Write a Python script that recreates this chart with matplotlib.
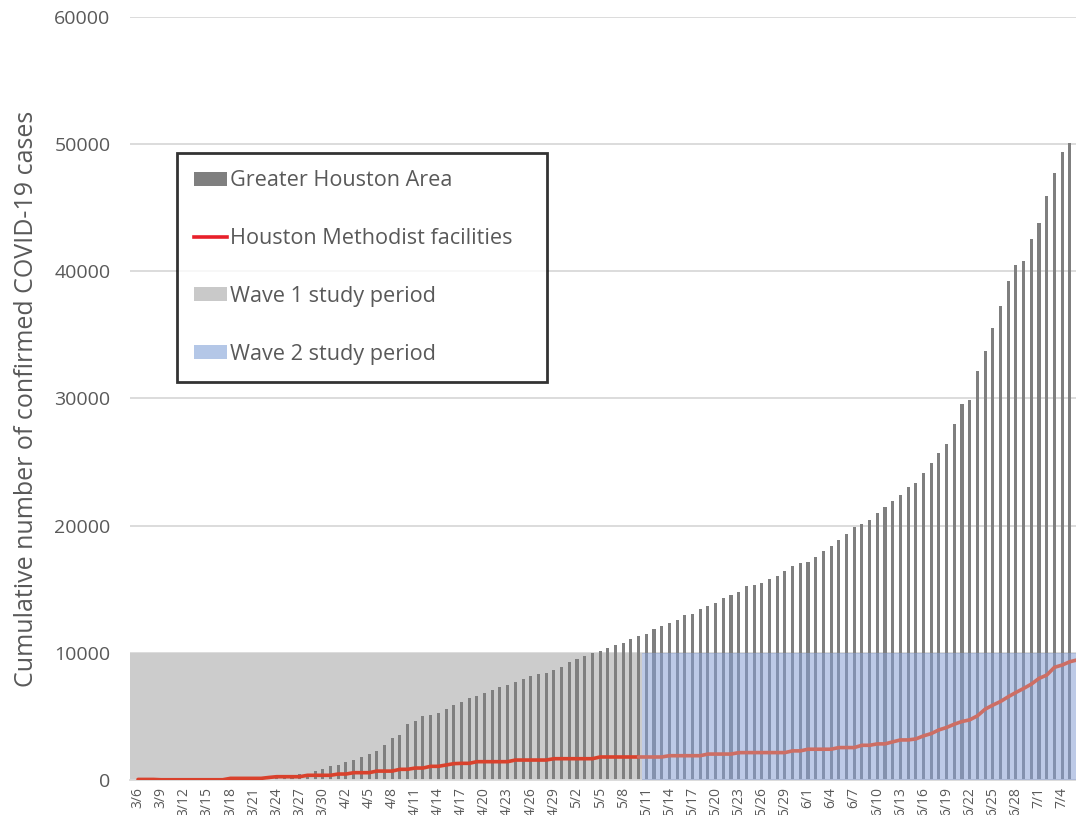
import matplotlib
matplotlib.use("Agg")
import matplotlib.pyplot as plt
from matplotlib.patches import Patch
from matplotlib.lines import Line2D
import numpy as np
import pandas as pd

# data (3/6 .. 7/6)
dates = pd.date_range("2020-03-06", "2020-07-06")
date_labels = [f"{d.month}/{d.day}" for d in dates]

greater_houston = [
    2, 4, 6, 11, 14, 17, 22, 30, 35, 42, 55, 75, 95, 120, 150, 185, 220, 260, 300, 340, 390,
    450, 500, 700, 840, 1075, 1180, 1415, 1550, 1835, 2020, 2300, 2780, 3280, 3510, 4400,
    4665, 5000, 5130, 5270,
    5610, 5870, 6130, 6470, 6600, 6840, 7075, 7340, 7470, 7680, 7965, 8175, 8310, 8440,
    8675, 8910, 9280, 9540, 9750, 9985, 10140, 10350, 10615, 10770, 11110, 11320,
    11455, 11845, 12080, 12370, 12600, 13000, 13075, 13470, 13680, 13940, 14310, 14570, 14780,
    15240, 15320, 15480, 15820, 16060, 16425, 16820, 17055, 17160, 17530, 18000, 18420,
    18895, 19370, 19870, 20130, 20470, 21000, 21500, 21970, 22440, 23070, 23340, 24150,
    24910, 25750, 26385, 27960, 29540, 29850,
    32140, 33720, 35510, 37300, 39270, 40510, 40850, 42580, 43820, 45920, 47740, 49370,
    50080, 51000,
]

methodist = [
    45, 45, 45, 20, 20, 20, 20, 20, 20, 20, 20, 20,
    130, 130, 130, 130, 130, 200, 260, 260, 260, 260, 370, 370, 370, 370,
    470, 470, 575, 575, 575, 700, 700, 700, 840, 840, 940, 940, 1075, 1075,
    1180, 1285, 1310, 1310, 1440, 1440, 1440, 1440, 1440, 1570, 1570, 1570, 1570, 1570,
    1675, 1675, 1675, 1675, 1675, 1675, 1810, 1810, 1810, 1810, 1810, 1810,
    1810, 1810, 1810, 1910, 1910, 1910, 1910, 1910, 2040, 2040, 2040, 2040, 2150,
    2155, 2155, 2155, 2155, 2155, 2155, 2290, 2290, 2420, 2420, 2420, 2420, 2550, 2550,
    2550, 2730, 2730, 2840, 2840, 3000, 3150, 3150, 3230, 3470, 3650, 3940, 4130, 4390,
    4600, 4730,
    5045, 5570, 5890, 6175, 6545, 6885, 7200, 7540, 7990, 8250, 8860, 9040, 9300, 9450,
]

wave1_end = "5/10"
wave_height = 10000

x = np.arange(len(date_labels))
w1 = date_labels.index(wave1_end)

text_grey = "#595959"
plt.rcParams["font.family"] = ["Open Sans", "DejaVu Sans"]

fig = plt.figure(figsize=(10.76, 8.15), dpi=100)
ax = fig.add_axes([130 / 1076, 35 / 815, 946 / 1076, 763 / 815])

x_left, x_right = -1.04, 121.8

# wave 1 shading behind bars
ax.fill_between([x_left, w1 + 0.5], 0, wave_height, color="#cccccc", lw=0, zorder=1)
ax.bar(x, greater_houston, width=0.4, color="#7f7f7f", zorder=2)
ax.plot(x[:w1 + 1], methodist[:w1 + 1], color="#d9412c", lw=2.6, zorder=3,
        solid_capstyle="round")
# wave 2 shading drawn over bars, semi-transparent
ax.fill_between([w1 + 0.5, x_right], 0, wave_height, color="#88a0d5", alpha=0.55, lw=0, zorder=4)
ax.plot(x[w1:], methodist[w1:], color="#cd6e64", lw=2.6, zorder=5, solid_capstyle="round")

ax.set_xlim(x_left, x_right)
ax.set_ylim(0, 60000)
ax.set_yticks(np.arange(0, 60001, 10000))
ax.set_yticklabels([str(v) for v in range(0, 60001, 10000)], color=text_grey, fontsize=14)
ax.set_xticks(x[::3])
ax.set_xticklabels(date_labels[::3], rotation=90, color=text_grey, fontsize=10, va="top")
ax.tick_params(length=0, pad=5)
ax.tick_params(axis="y", pad=14)
ax.grid(axis="y", color="#d9d9d9", lw=1.3, zorder=0)
ax.set_axisbelow(True)
for s in ["top", "right", "left"]:
    ax.spines[s].set_visible(False)
ax.spines["bottom"].set_color("#d9d9d9")
ax.spines["bottom"].set_linewidth(1.3)

ax.set_ylabel("Cumulative number of confirmed COVID-19 cases", fontsize=18,
              color=text_grey, labelpad=11)

handles = [
    Patch(facecolor="#7f7f7f", edgecolor="none"),
    Line2D([], [], color="#e8202a", lw=2.6),
    Patch(facecolor="#c9c9c9", edgecolor="none"),
    Patch(facecolor="#b4c7e7", edgecolor="none"),
]
labels = ["Greater Houston Area", "Houston Methodist facilities",
          "Wave 1 study period", "Wave 2 study period"]
leg = fig.legend(handles, labels, loc="upper left", mode="expand",
                 bbox_to_anchor=(177 / 1076, 1 - 380 / 815, 370 / 1076, 227 / 815),
                 fontsize=15.6, labelcolor=text_grey, frameon=True, fancybox=False,
                 handlelength=1.5, handleheight=0.6, handletextpad=0.15,
                 labelspacing=1.7, borderpad=0.8, borderaxespad=0)
leg.get_frame().set_edgecolor("black")
leg.get_frame().set_linewidth(2)
leg.set_zorder(10)

fig.savefig("out.png", dpi=100)
